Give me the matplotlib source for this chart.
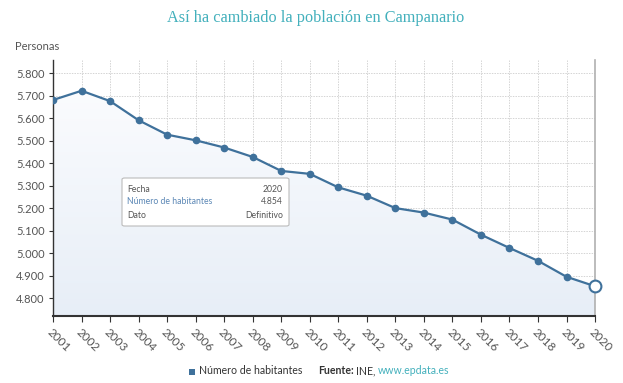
import numpy as np
import matplotlib
matplotlib.use("Agg")
import matplotlib.pyplot as plt
from matplotlib.ticker import FuncFormatter, MultipleLocator
from matplotlib.patches import FancyBboxPatch

years = list(range(2001, 2021))
habitantes = [5681, 5722, 5676, 5591, 5527, 5502, 5470, 5428, 5366, 5353,
              5293, 5256, 5201, 5181, 5150, 5083, 5024, 4967, 4896, 4854]

title = "Así ha cambiado la población en Campanario"
y_label = "Personas"
serie = "Número de habitantes"

line_col = "#3f719b"
teal = "#43b0bc"
gray_txt = "#555555"

plt.rcParams["font.family"] = ["Lato", "DejaVu Sans"]

fig = plt.figure(figsize=(6.23, 3.83), dpi=100)
ax = fig.add_axes([0.0851, 0.175, 0.8700, 0.668])

ax.set_xlim(2001, 2020)
ax.set_ylim(4722, 5858)

# area with a light gradient under the line
poly = ax.fill_between(years, habitantes, 4722, color="none", zorder=1)
grad = np.linspace(0, 1, 256).reshape(-1, 1)
cmap = matplotlib.colors.LinearSegmentedColormap.from_list("g", ["#e7eef7", "#fbfcfe"])
im = ax.imshow(grad, cmap=cmap, aspect="auto", origin="lower",
               extent=[2001, 2020, 4722, 5740], zorder=1)
im.set_clip_path(poly.get_paths()[0], transform=ax.transData)

ax.plot(years[:-1], habitantes[:-1], color=line_col, linewidth=1.6,
        marker="o", markersize=4.5, zorder=3)
ax.plot(years[-2:], habitantes[-2:], color=line_col, linewidth=1.6, zorder=3)
ax.plot(years[-1], habitantes[-1], marker="o", markersize=8.5,
        markerfacecolor="white", markeredgecolor=line_col,
        markeredgewidth=1.5, zorder=5, clip_on=False)

ax.yaxis.set_major_locator(MultipleLocator(100))
ax.yaxis.set_major_formatter(FuncFormatter(lambda v, p: f"{int(v):,}".replace(",", ".")))
ax.set_xticks(years)
ax.set_xticklabels([str(y) for y in years], rotation=-45, ha="left",
                   va="top", rotation_mode="anchor", fontsize=8.5, color=gray_txt)
ax.tick_params(axis="y", labelsize=8, colors=gray_txt, length=3,
               width=0.8, pad=3)
ax.tick_params(axis="y", color="#333333")
ax.tick_params(axis="x", length=4, width=0.8, color="#333333", pad=4)

ax.grid(True, color="#d4d4d4", linestyle=(0, (1.5, 1.2)), linewidth=0.7, zorder=0)
ax.set_axisbelow(True)

ax.spines["top"].set_visible(False)
ax.spines["left"].set_color("#333333")
ax.spines["left"].set_linewidth(1.0)
ax.spines["bottom"].set_color("#333333")
ax.spines["bottom"].set_linewidth(1.5)
ax.spines["right"].set_color("#b0b0b0")
ax.spines["right"].set_linewidth(1.2)

fig.text(15 / 623, 1 - 46 / 383, y_label, fontsize=8, color=gray_txt,
         ha="left", va="center")
fig.text(0.506, 1 - 18 / 383, title, fontsize=11.7, color=teal,
         family="Liberation Serif", ha="center", va="center")

# tooltip box
bx0, by0, bx1, by1 = 122 / 623, 1 - 226 / 383, 289 / 623, 1 - 178 / 383
box = FancyBboxPatch((bx0, by0), bx1 - bx0, by1 - by0,
                     boxstyle="round,pad=0,rounding_size=0.004",
                     transform=fig.transFigure, facecolor="white",
                     edgecolor="#bbbbbb", linewidth=0.8, zorder=10)
fig.patches.append(box)
rows = [("Fecha", "2020", gray_txt), (serie, "4.854", "#5b87b5"),
        ("Dato", "Definitivo", gray_txt)]
for i, (k, v, c) in enumerate(rows):
    yy = 1 - (189 + i * 13) / 383
    fig.text(127 / 623, yy, k, fontsize=6.2, color=c, ha="left", va="center", zorder=11)
    fig.text(283 / 623, yy, v, fontsize=6.2, color=gray_txt, ha="right", va="center", zorder=11)

# legend / source at the bottom
ly = 1 - 371 / 383
fig.patches.append(matplotlib.patches.Rectangle((189 / 623, ly - 0.011), 6 / 623, 6 / 383,
                   transform=fig.transFigure, facecolor=line_col, edgecolor="none"))
fig.text(199 / 623, ly, serie, fontsize=7.6, color="#333333", ha="left", va="center")
t1 = fig.text(318 / 623, ly, "Fuente:", fontsize=7.6, color="#333333",
              weight="bold", ha="left", va="center")
fig.canvas.draw()
bb = t1.get_window_extent()
t2 = fig.text(bb.x1 / 623 + 0.004, ly, "INE,", fontsize=7.6, color="#333333",
              ha="left", va="center")
bb2 = t2.get_window_extent()
fig.text(bb2.x1 / 623 + 0.004, ly, "www.epdata.es", fontsize=7.6, color=teal,
         ha="left", va="center")

fig.savefig("out.png", dpi=100)
